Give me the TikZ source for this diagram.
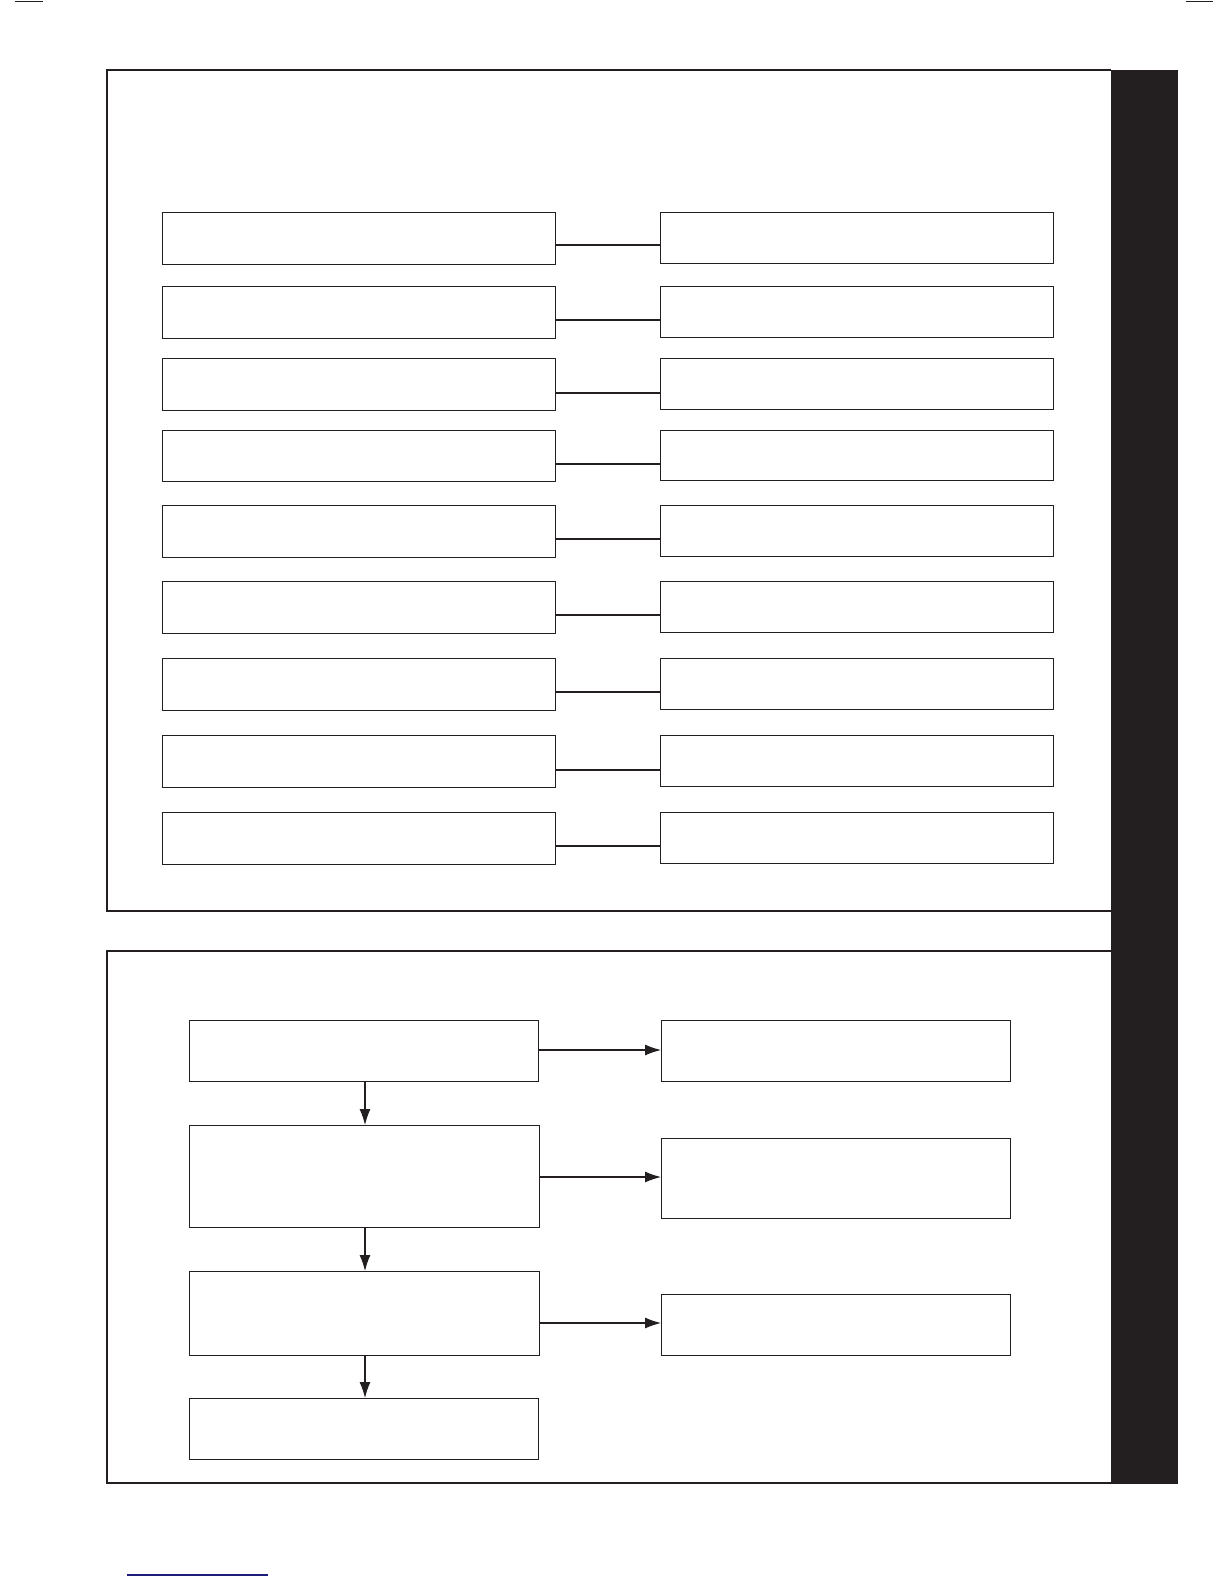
\documentclass[tikz,border=0pt]{standalone}
\usetikzlibrary{arrows.meta,calc}
\definecolor{ink}{HTML}{231F20}
\definecolor{navy}{HTML}{1C1C7A}
\tikzset{
  box/.style={draw=ink, line width=1.1pt, rectangle, inner sep=0pt, anchor=north west},
  frame/.style={draw=ink, line width=2.2pt},
  link/.style={draw=ink, line width=1.1pt},
  flow/.style={draw=ink, line width=1.1pt, -{Latex[length=16pt,width=11pt]}},
}
\begin{document}
\begin{tikzpicture}[x=1pt,y=-1pt]
\path[use as bounding box] (0,0) rectangle (1224,1584);
% page marks
\draw[ink, line width=1pt] (15,1.5) -- (43,1.5);
\draw[ink, line width=1pt] (1186,1.5) -- (1213,1.5);
\draw[navy, line width=1.3pt] (127,1575) -- (268,1575);
% black side bar
\fill[ink] (1111,70) rectangle (1178,1484);
% frames
\draw[frame] (1111,70) -- (107,70) -- (107,911) -- (1111,911);
\draw[frame] (1111,951) -- (107,951) -- (107,1483) -- (1111,1483);
% top section boxes
\foreach \i/\t/\b/\c in {1/212/264/245, 2/286/338/320, 3/358/410/393, 4/430/481/464, 5/505/557/539, 6/581/633/615, 7/658/710/692, 8/735/787/770, 9/812/864/846}{
  \node[box, minimum width=393pt, minimum height={\b-\t}] (l\i) at (162,\t) {};
  \node[box, minimum width=393pt, minimum height={\b-\t-1}] (r\i) at (660,\t) {};
  \coordinate (p\i) at (0,\c);
  \draw[link] (l\i.east |- p\i) -- (r\i.west |- p\i);
}
% bottom section
\node[box, minimum width=349pt, minimum height=61pt] (b1) at (189,1020) {};
\node[box, minimum width=350pt, minimum height=102pt] (b2) at (189,1125) {};
\node[box, minimum width=350pt, minimum height=84pt] (b3) at (189,1271) {};
\node[box, minimum width=349pt, minimum height=61pt] (b4) at (189,1398) {};
\node[box, minimum width=349pt, minimum height=61pt] (c1) at (661,1020) {};
\node[box, minimum width=349pt, minimum height=80pt] (c2) at (661,1138) {};
\node[box, minimum width=349pt, minimum height=61pt] (c3) at (661,1294) {};
\coordinate (q1) at (0,1050);
\coordinate (q2) at (0,1177);
\coordinate (q3) at (0,1323);
\draw[flow] (b1.east |- q1) -- (c1.west |- q1);
\draw[flow] (b2.east |- q2) -- (c2.west |- q2);
\draw[flow] (b3.east |- q3) -- (c3.west |- q3);
\coordinate (vx) at (365,0);
\draw[flow] (b1.south -| vx) -- (b2.north -| vx);
\draw[flow] (b2.south -| vx) -- (b3.north -| vx);
\draw[flow] (b3.south -| vx) -- (b4.north -| vx);
\end{tikzpicture}
\end{document}
